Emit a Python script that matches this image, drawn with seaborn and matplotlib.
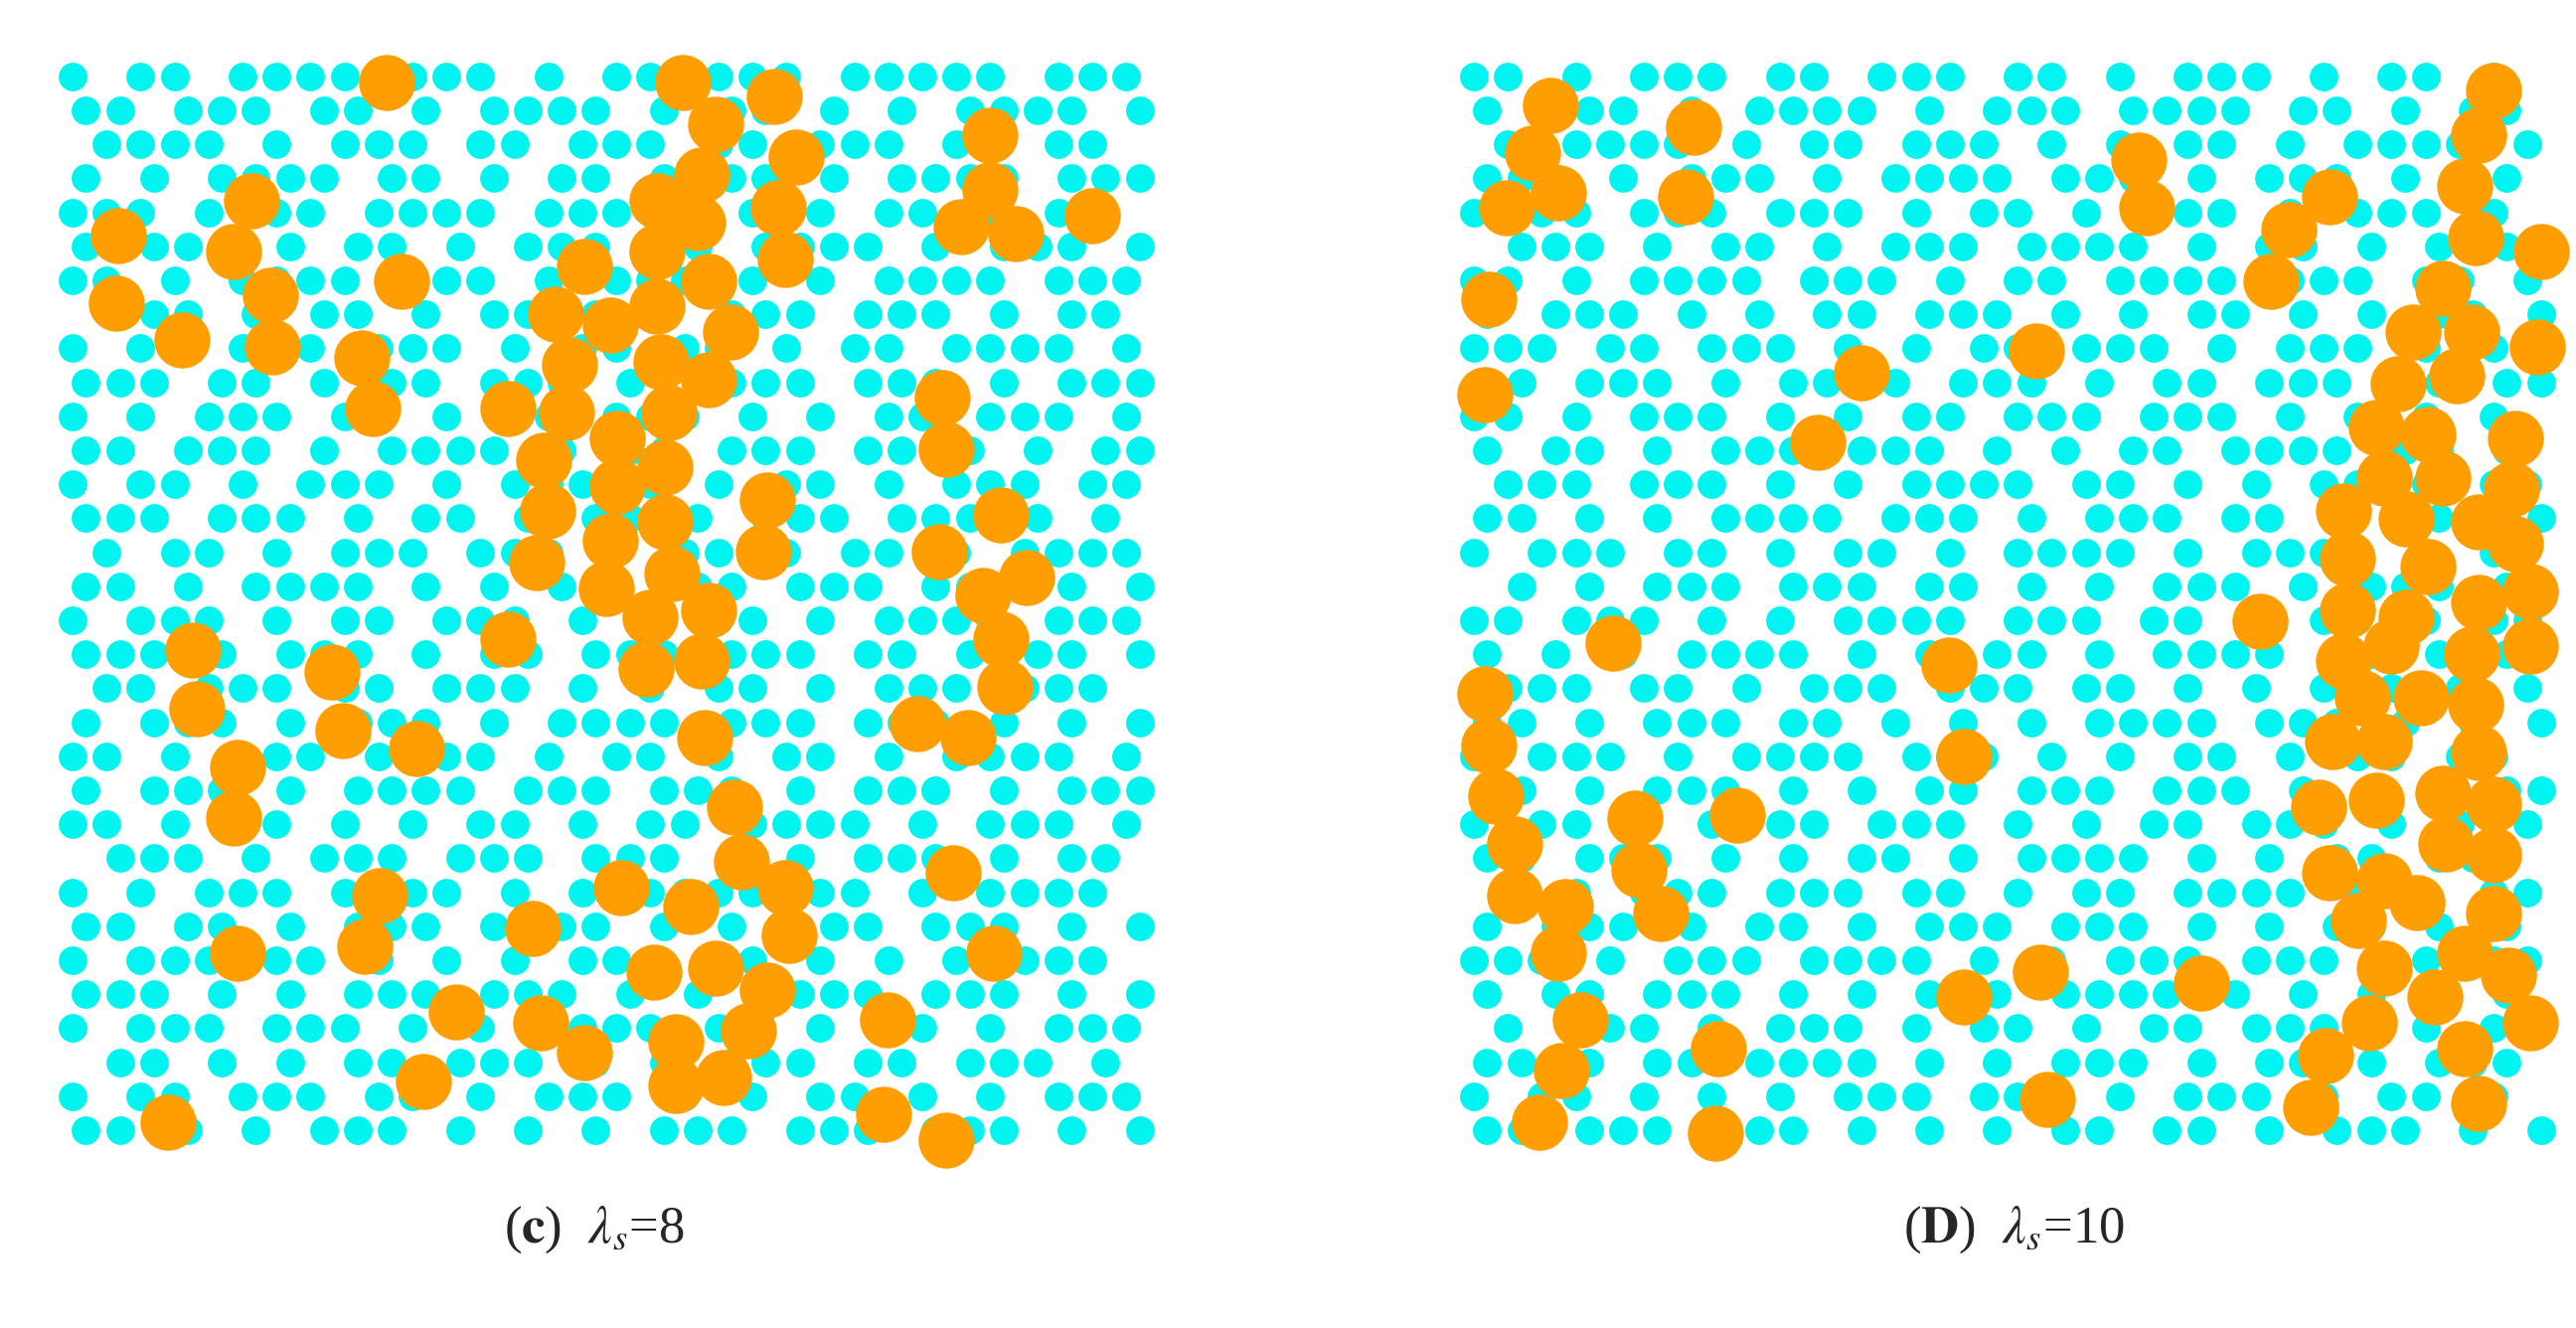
import numpy as np
import pandas as pd
import seaborn as sns
import matplotlib.pyplot as plt

# orange (large) particles, panel pixel coords (0..1550, y down)
orange_c_x = [475, 880, 1005, 925, 1035, 905, 1300, 1300, 1440, 1260, 1335, 290, 108, 265, 845, 900, 1010, 1020, 845, 915,
              745, 495, 105, 315, 195, 318, 705, 780, 845, 945, 440, 725, 850, 915, 455, 640, 720, 790, 860, 1235,
              1240, 690, 855, 790, 695, 995, 855, 780, 680, 990, 1230, 1315, 1350, 775, 865, 1290, 835, 915, 1315, 210,
              640, 830, 905, 400, 1320, 215, 415, 515, 910, 1200, 1270, 270, 265, 950, 960, 1020, 1250, 465, 795, 890,
              1025, 675, 270, 445, 840, 925, 995, 1305, 570, 685, 745, 870, 970, 1160, 525, 870, 935, 175, 1155, 1240]
orange_c_y = [58, 58, 78, 115, 160, 185, 130, 205, 240, 255, 265, 220, 268, 290, 220, 250, 230, 300, 290, 330,
              310, 330, 360, 350, 410, 420, 375, 390, 365, 400, 435, 445, 440, 465, 505, 505, 510, 545, 510, 490,
              560, 575, 585, 610, 645, 630, 660, 685, 715, 700, 700, 650, 735, 750, 730, 760, 790, 780, 820, 835,
              820, 860, 850, 865, 885, 915, 945, 970, 955, 935, 955, 995, 1065, 1050, 1125, 1160, 1140, 1170, 1160, 1185,
              1225, 1215, 1250, 1240, 1275, 1270, 1300, 1250, 1330, 1345, 1385, 1370, 1355, 1340, 1425, 1430, 1420, 1480, 1470, 1505]

orange_d_x = [150, 125, 160, 90, 345, 335, 65, 60, 955, 965, 1215, 1160, 1135, 1440, 1420, 1400, 1415, 1505, 1370, 1330,
              1410, 1500, 1310, 1390, 1280, 1350, 1470, 1290, 1370, 1465, 1235, 1320, 1420, 1470, 1240, 1350, 1490, 1240, 1320, 1420,
              1490, 1235, 1300, 1410, 1260, 1340, 1415, 1220, 1290, 1420, 1200, 1280, 1370, 1440, 1215, 1290, 1375, 1440, 1255, 1335,
              1440, 1290, 1400, 1460, 1270, 1360, 1490, 1210, 1400, 1190, 1420, 575, 815, 515, 1120, 235, 695, 715, 60, 65,
              75, 100, 100, 170, 160, 265, 270, 300, 405, 190, 165, 135, 380, 375, 715, 820, 1040, 830]
orange_d_y = [90, 155, 210, 230, 120, 215, 355, 485, 165, 230, 215, 260, 330, 70, 130, 200, 270, 290, 340, 400,
              400, 420, 470, 460, 530, 540, 545, 600, 600, 615, 645, 655, 660, 690, 710, 720, 755, 780, 790, 770,
              830, 850, 830, 840, 900, 900, 910, 960, 960, 975, 1050, 1040, 1030, 1045, 1140, 1150, 1100, 1115, 1205, 1180,
              1195, 1270, 1250, 1280, 1345, 1310, 1345, 1390, 1380, 1460, 1455, 455, 425, 550, 795, 825, 855, 980, 895, 965,
              1035, 1100, 1170, 1185, 1250, 1065, 1135, 1195, 1060, 1340, 1410, 1480, 1380, 1495, 1310, 1275, 1290, 1450]

# cyan (small) particle occupancy maps, '#' = particle
cyan_c = [
    "#.##.####.###.#.##.###.#####.###",
    "##.###.##.#.####.#.##.#.#.####.#",
    ".####.#.###.##.###.##.###.##.##.",
    "#.#.####.##.#.##.####.#.####.###",
    "###.#.##.####.###.#.###.##.#.##.",
    "#.###.#.##.#.###.##.####.#.###.#",
    "##.#.####.###.#.###.#.#.####.###",
    ".###.#.##.#.####.#.###.###.#.##.",
    "#.##.###.###.#.##.##.#.##.####.#",
    "###.##.#.##.###.#.####.###.#.###",
    "#.#.###.##.#.##.###.#.#.##.###.#",
    "##.###.#.####.#.##.###.####.#.##",
    "#.##.#.###.#.###.#.#.##.#.###.##",
    "###.###.#.##.#.####.###.###.#.#.",
    ".#.##.#.###.###.#.##.#.##.#.####",
    "##.#.####.#.#.##.###.###.###.#.#",
    "#.###.#.##.###.#.#.##.#.####.###",
    "###.#.###.#.##.###.###.##.#.##.#",
    ".##.###.##.###.#.#.##.#.###.###.",
    "#.###.#.###.#.####.###.###.#.#.#",
    "##.#.###.#.##.#.##.#.##.#.####.#",
    "#.###.#.####.###.###.#.###.#.###",
    "##.#.##.#.#.##.#.##.####.#.###.#",
    ".###.#.###.###.###.#.#.###.#.##.",
    "#.#.###.#.##.#.#.####.##.#.####.",
    "##.##.#.###.####.#.#.###.###.#.#",
    "#.###.##.#.#.#.###.##.#.#.#.###.",
    "###.#.#.###.###.#.#.####.###.#.#",
    "#.###.###.#.#.####.##.#.##.#.###",
    ".##.#.#.##.###.#.#.###.##.###.#.",
    "#.##.###.##.#.###.#.#.##.#.#.###",
    "##.#.#.###.#.#.#.###.###.###.#.#",
]
cyan_d = [
    "##.#.###.##.###.##.#.###.#.##.#.",
    "#.###.#.####.#.###.####.##.#.##.",
    ".#.####.#.##.###.#.#.##.#.####.#",
    "###.#.###.#.####.###.#.###.#.##.",
    "#.##.###.###.#.##.#.###.#.###.#.",
    ".###.#.##.#.###.####.#.##.#.#.##",
    "##.#.####.###.#.##.####.###.##.#",
    "#.###.#.#.##.###.#.#.##.#.#.##.#",
    "###.##.###.#.#.##.###.#.###.#.##",
    ".#.###.#.####.###.#.##.###.##.##",
    "##.#.###.#.#.##.###.###.#.#.#.#.",
    "#.##.#.###.###.#.#.##.####.##.#.",
    ".###.###.#.#.####.##.#.#.##.#.##",
    "##.#.#.####.###.#.###.##.#.##.##",
    "#.###.##.#.##.#.####.#.####.#.#.",
    ".#.#.###.###.##.#.#.###.#.###.#.",
    "##.###.#.#.####.###.##.#.##.#.##",
    "#.#.#.####.#.#.##.#.####.##.#.#.",
    ".###.##.#.###.###.##.#.#.###.#.#",
    "##.#.###.##.#.#.#.####.###.#.#.#",
    "#.###.#.####.###.#.#.##.#.##.##.",
    "##.#.###.#.#.##.###.###.#.#.#.##",
    "#.##.#.####.###.#.#.##.###.#.#.#",
    "##.###.#.#.##.#.####.#.#.##.###.",
    ".#.#.###.###.##.#.##.####.#.#.##",
    "#.###.#.##.#.###.###.#.#.##.#.#.",
    "###.#.###.####.#.#.###.###.##.##",
    "#.##.###.#.#.###.####.#.#.#.#.#.",
    ".#.###.#.###.#.##.#.##.####.#.##",
    "##.#.##.####.#.#.###.#.##.#.###.",
    "#.##.#.#.#.###.###.#.###.#.##.#.",
    "##.###.###.#.#.#.##.##.#.###.#.#",
]

labels = [r"($\mathbf{c}$)  $\lambda_s$=8", r"($\mathbf{D}$)  $\lambda_s$=10"]


def cyan_points(grid):
    xs, ys = [], []
    for r, row in enumerate(grid):
        for c, ch in enumerate(row):
            if ch == "#":
                xs.append(45 + c * 46.5 + (18 if r % 2 else 0))
                ys.append(50 + r * 46.5)
    return pd.DataFrame({"x": xs, "y": ys})


sns.set_style("white")
plt.rcParams["font.family"] = ["Liberation Serif", "DejaVu Serif"]
plt.rcParams["mathtext.fontset"] = "stix"

W, H = 2592, 1336
fig = plt.figure(figsize=(W / 100, H / 100), dpi=100)

panels = [
    (40, cyan_c, orange_c_x, orange_c_y, labels[0], 598),
    (1450, cyan_d, orange_d_x, orange_d_y, labels[1], 2027),
]
for left, grid, ox, oy, lab, lx in panels:
    ax = fig.add_axes([left / W, 1 - 1180 / H, 1140 / W, 1140 / H])
    sns.scatterplot(data=cyan_points(grid), x="x", y="y", ax=ax, color="#00f5f0",
                    s=430, linewidth=0, legend=False)
    odf = pd.DataFrame({"x": ox, "y": oy})
    sns.scatterplot(data=odf, x="x", y="y", ax=ax, color="#ff9e00",
                    s=1650, linewidth=0, legend=False)
    ax.set_xlim(0, 1550)
    ax.set_ylim(1550, 0)
    ax.set_axis_off()
    fig.text(lx / W, 1 - 1237 / H, lab, ha="center", va="center", fontsize=38)

fig.savefig("out.png", dpi=100)
